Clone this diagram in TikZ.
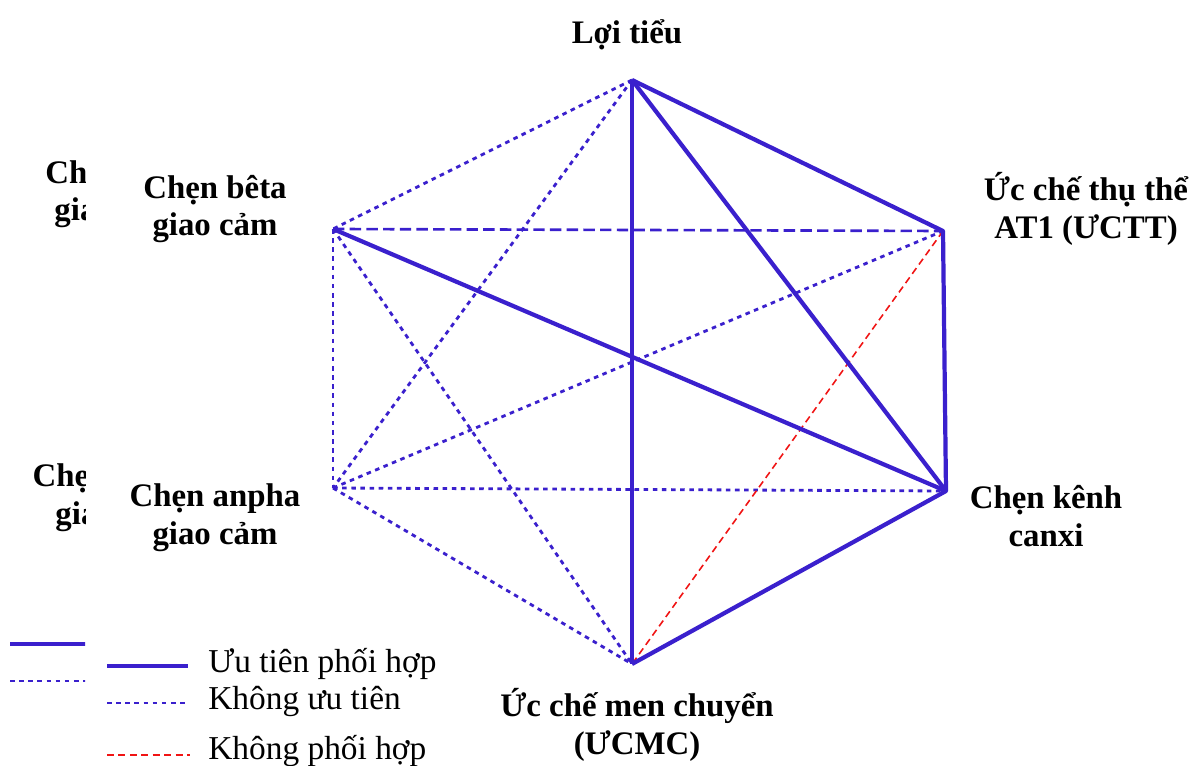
\documentclass[tikz,border=0pt]{standalone}
\usepackage{fontspec}
\setmainfont{Liberation Serif}
\usepackage{xcolor}
\usetikzlibrary{positioning}
\definecolor{drugblue}{RGB}{58,32,205}
\definecolor{nored}{RGB}{240,20,20}
\tikzset{
  lbl/.style={font=\bfseries\fontsize{18.7}{21.5}\selectfont,align=center,inner sep=0pt},
  leg/.style={font=\fontsize{19}{19}\selectfont,inner sep=0pt,anchor=base west},
  prio/.style={drugblue,line width=2.4pt},
  nopr/.style={drugblue,line width=1.6pt,dash pattern=on 2.6pt off 2.6pt},
  nopd/.style={drugblue,line width=1.5pt,dash pattern=on 6.5pt off 3pt},
  nocb/.style={nored,line width=0.9pt,dash pattern=on 4pt off 2.5pt}
}
\begin{document}
\begin{tikzpicture}[x=0.02cm,y=-0.02cm]
\useasboundingbox (0,0) rectangle (1200,766);
% drug classes
\coordinate (lt) at (632,80);
\coordinate (bt) at (333,229);
\coordinate (at) at (943,231);
\coordinate (an) at (333,488);
\coordinate (ck) at (946,491);
\coordinate (mc) at (632,664);
\node[lbl,anchor=base] (ltL) at (627,44) {Lợi tiểu};
\node[lbl] (btL) at (215,209) {Chẹn bêta\\giao cảm};
\node[lbl] (atL) at (1086,209) {Ức chế thụ thể\\AT1 (ƯCTT)};
\node[lbl] (anL) at (215,518) {Chẹn anpha\\giao cảm};
\node[lbl] (ckL) at (1046,516) {Chẹn kênh\\canxi};
\node[lbl] (mcL) at (637,725) {Ức chế men chuyển\\(ƯCMC)};
% pairs
\draw[nopr] (lt) -- (bt);
\draw[nopr] (lt) -- (an);
\draw[nopr] (bt) -- (an);
\draw[nopr] (bt) -- (mc);
\draw[nopr] (an) -- (at);
\draw[nopr] (an) -- (ck);
\draw[nopr] (an) -- (mc);
\draw[nopd] (bt) -- (at);
\draw[nocb] (at) -- (mc);
\draw[prio] (lt) -- (mc);
\draw[prio] (bt) -- (ck);
\draw[prio] (lt) -- (ck);
\draw[prio,line join=round] (lt) -- (at) -- (ck) -- (mc);
% cut-off remains at the left edge
\begin{scope}
\clip (0,0) rectangle (85,766);
\node[lbl] (btG) at (117,194) {Chẹn bêta\\giao cảm};
\node[lbl] (anG) at (118,498) {Chẹn anpha\\giao cảm};
\coordinate (g1a) at (10,644); \coordinate (g1b) at (90,644);
\coordinate (g2a) at (10,681); \coordinate (g2b) at (90,681);
\draw[prio] (g1a) -- (g1b);
\draw[nopr] (g2a) -- (g2b);
\end{scope}
% legend
\node[leg] (k1) at (208,672) {Ưu tiên phối hợp};
\node[leg] (k2) at (208,709) {Không ưu tiên};
\node[leg] (k3) at (208,759) {Không phối hợp};
\coordinate (s1) at (107,666); \coordinate (s2) at (107,703); \coordinate (s3) at (107,755);
\draw[prio] (s1) -- ++(81,0);
\draw[nopr] (s2) -- ++(81,0);
\draw[nocb] (s3) -- ++(83,0);
\end{tikzpicture}
\end{document}
